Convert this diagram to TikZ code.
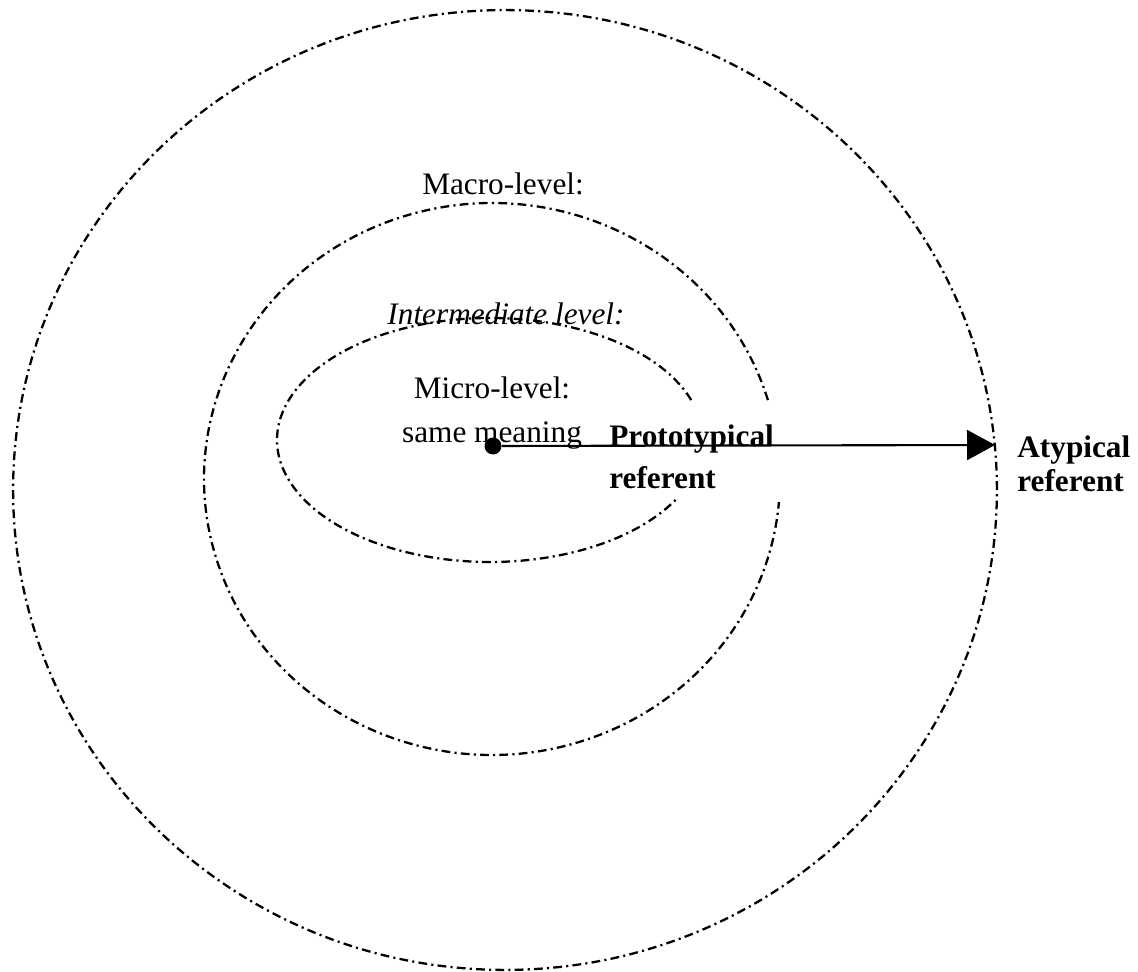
\documentclass[tikz,border=0pt]{standalone}
\usepackage{fontspec}
\setmainfont{Liberation Serif}
\usetikzlibrary{positioning,arrows.meta}

\tikzset{
  levelring/.style={line width=1.3pt,dash pattern=on 5pt off 2.4pt on 1.2pt off 2.4pt},
  leveltext/.style={font=\fontsize{17.8}{21}\selectfont,inner sep=0pt,anchor=base}
}

\begin{document}
\begin{tikzpicture}[x=0.02cm,y=0.02cm]
\useasboundingbox (0,0) rectangle (1138,-972);
\coordinate (O) at (505,-490);
\coordinate (M) at (492,-479);
\coordinate (I) at (490,-440);

\draw[levelring] (O) ellipse [x radius=9.84cm,y radius=9.6cm];
\draw[levelring] ([shift={(16.6:5.76cm and 5.52cm)}]M)
    arc[start angle=16.6,end angle=355.2,x radius=5.76cm,y radius=5.52cm];
\draw[levelring] ([shift={(19.1:4.26cm and 2.44cm)}]I)
    arc[start angle=19.1,end angle=331.6,x radius=4.26cm,y radius=2.44cm];

\begin{scope}[every node/.style={leveltext}]
    \node (macro) at (503,-195) {Macro-level:};
    \node (inter) at (506,-325) {\itshape Intermediate level:};
    \node (micro) at (492,-399) {Micro-level:};
    \node (same)  at (492,-443) {same meaning};
    \node[anchor=base west] (proto)  at (609,-447) {\bfseries Prototypical};
    \node[anchor=base west] (protoref) at (609,-488) {\bfseries referent};
    \node[anchor=base west] (atyp)   at (1017,-458) {\bfseries Atypical};
    \node[anchor=base west] (atypref) at (1017,-492) {\bfseries referent};
\end{scope}

\node[circle,fill=black,inner sep=0pt,minimum size=0.34cm] (centre) at (493,-446) {};
\coordinate (rim) at (995,-445);
\draw[line width=1.2pt,-{Triangle[length=0.56cm,width=0.6cm]}] (centre) -- (rim);
\end{tikzpicture}
\end{document}
